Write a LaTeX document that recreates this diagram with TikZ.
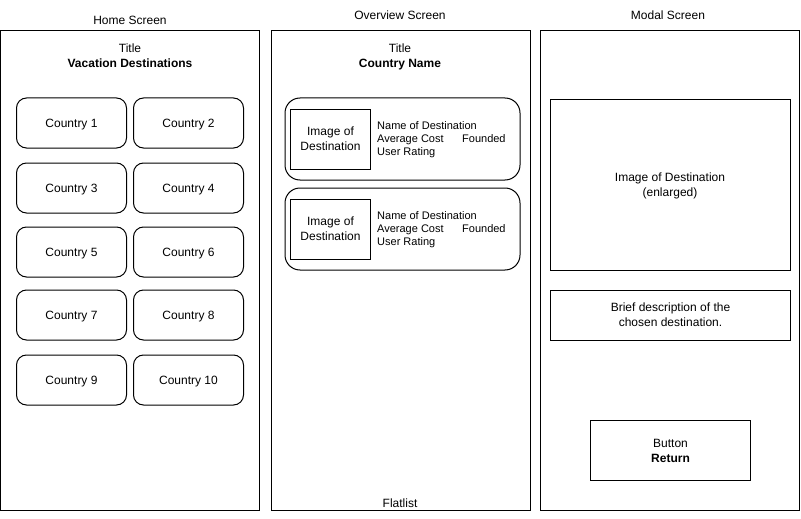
\documentclass[tikz,border=0pt]{standalone}
\usepackage{fontspec}
\setmainfont{Liberation Sans}
\usepackage{tikz}

\begin{document}
\begin{tikzpicture}[x=1pt, y=-1pt,
  screen/.style={draw, line width=1pt, minimum width=259pt, minimum height=480pt, inner sep=0pt},
  txt/.style={font=\fontsize{12}{15}\selectfont, align=center, inner sep=0pt, text depth=0pt},
  small/.style={font=\fontsize{11}{13}\selectfont, align=left, inner sep=0pt, text depth=0pt},
  country/.style={draw, line width=1pt, rounded corners=10pt, minimum width=110pt, minimum height=50pt, txt},
  item/.style={draw, line width=1pt, rounded corners=15pt, minimum width=235pt, minimum height=82pt, inner sep=0pt},
  box/.style={draw, line width=1pt, txt}
]
\useasboundingbox (0,0) rectangle (801,519);

% three screens
\node[screen] (home) at (130,270.5) {};
\node[screen] (overview) at (400.5,270.5) {};
\node[screen] (modal) at (670,270.5) {};
\node[txt] (homename) at (130,20) {Home Screen};
\node[txt] (overviewname) at (400,15) {Overview Screen};
\node[txt] (modalname) at (668,15) {Modal Screen};

% home screen
\node[txt] (hometitle) at (130,55.5) {Title\\\textbf{Vacation Destinations}};
\foreach \n/\x/\y in {1/71.5/123, 2/188.5/123, 3/71.5/188, 4/188.5/188, 5/71.5/252,
                      6/188.5/252, 7/71.5/315, 8/188.5/315, 9/71.5/380, 10/188.5/380}
  \node[country] (country\n) at (\x,\y) {Country \n};

% overview screen
\node[txt] (overviewtitle) at (400,55.5) {Title\\\textbf{Country Name}};
\foreach \i/\y in {1/139, 2/229} {
  \node[item] (item\i) at (402.5,\y) {};
  \node[box, minimum width=80pt, minimum height=60pt] (img\i) at (330.5,\y) {Image of\\Destination};
  \node[small, anchor=west] (info\i) at (377,\y) {Name of Destination\\\makebox[85pt][l]{Average Cost}Founded\\User Rating};
}
\node[txt] (flatlist) at (400,503) {Flatlist};

% modal screen
\node[box, minimum width=240pt, minimum height=170pt] (bigimg) at (670,185) {Image of Destination\\(enlarged)};
\node[box, minimum width=240pt, minimum height=50pt] (desc) at (670.5,315) {Brief description of the\\chosen destination.};
\node[box, minimum width=160pt, minimum height=60pt] (button) at (670.5,450.5) {Button\\\textbf{Return}};
\end{tikzpicture}
\end{document}
